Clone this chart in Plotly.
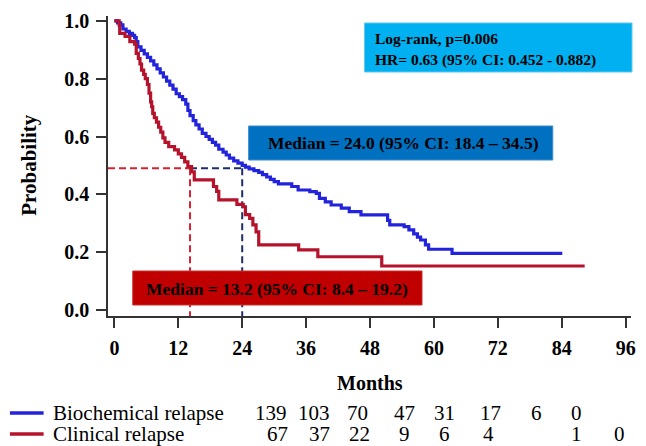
import plotly.graph_objects as go

# ---------------- data ----------------
bio_t = [0, 0.6, 1.2, 1.6, 2.2, 2.8, 3.4, 3.8, 4.1, 4.4, 5.0, 5.6, 6.2, 6.8, 7.4, 8.0, 8.6, 9.2,
         9.8, 10.4, 11.0, 11.6, 12.2, 12.8, 13.4, 13.8, 14.2, 14.8, 15.3, 15.9, 16.5, 17.2, 17.8,
         18.4, 19.0, 19.6, 20.4, 21.0, 21.6, 22.4, 23.2, 24.0, 24.6, 25.3, 26.2, 27.1, 27.8, 28.6,
         29.3, 30.0, 30.8, 33.3, 34.5, 36.7, 37.9, 38.5, 39.6, 40.7, 42.6, 44.1, 46.3, 51.3, 51.7,
         54.4, 55.3, 56.2, 56.9, 57.5, 58.4, 59.0, 63.4, 84.1]
bio_s = [1.0, 0.993, 0.986, 0.972, 0.964, 0.957, 0.950, 0.942, 0.928, 0.910, 0.898, 0.886, 0.874,
         0.862, 0.848, 0.834, 0.820, 0.806, 0.792, 0.778, 0.764, 0.748, 0.738, 0.728, 0.712, 0.690,
         0.672, 0.655, 0.640, 0.626, 0.611, 0.600, 0.590, 0.580, 0.570, 0.556, 0.546, 0.536, 0.525,
         0.516, 0.508, 0.500, 0.494, 0.488, 0.482, 0.476, 0.468, 0.460, 0.452, 0.444, 0.436, 0.427,
         0.415, 0.409, 0.403, 0.386, 0.374, 0.363, 0.352, 0.340, 0.329, 0.310, 0.294, 0.288, 0.277,
         0.263, 0.252, 0.242, 0.225, 0.210, 0.196, 0.196]

clin_t = [0, 0.9, 1.0, 2.0, 2.9, 3.8, 4.1, 4.5, 4.8, 5.1, 5.5, 5.8, 6.2, 6.5, 6.8, 7.0, 7.2, 7.5,
          7.9, 8.3, 8.7, 9.1, 9.5, 10.2, 11.3, 12.0, 12.6, 13.2, 13.8, 14.5, 15.0, 18.6, 19.2, 19.6,
          23.0, 24.2, 24.6, 25.4, 26.0, 26.6, 27.1, 34.6, 38.2, 50.2, 88.3]
clin_s = [1.0, 0.985, 0.957, 0.946, 0.928, 0.920, 0.888, 0.870, 0.851, 0.830, 0.815, 0.800, 0.780,
          0.750, 0.720, 0.703, 0.680, 0.665, 0.650, 0.632, 0.615, 0.595, 0.580, 0.565, 0.554, 0.540,
          0.528, 0.512, 0.496, 0.478, 0.450, 0.427, 0.410, 0.381, 0.365, 0.357, 0.330, 0.317, 0.294,
          0.270, 0.225, 0.208, 0.184, 0.152, 0.152]

median_level = 0.49
median_clin_drawn = 14.2
median_bio_drawn = 24.0
median_bio_curve = 24.6

x_ticks = [0, 12, 24, 36, 48, 60, 72, 84, 96]
y_ticks = [0.0, 0.2, 0.4, 0.6, 0.8, 1.0]

group_names = ["Biochemical relapse", "Clinical relapse"]
risk_bio = ["139", "103", "70", "47", "31", "17", "6", "0"]
risk_clin = ["67", "37", "22", "9", "6", "4", "", "1", "0"]

stats_line1 = "Log-rank, p=0.006"
stats_line2 = "HR= 0.63 (95% CI: 0.452 - 0.882)"
median_bio_text = "Median = 24.0 (95% CI: 18.4 \u2013 34.5)"
median_clin_text = "Median = 13.2 (95% CI: 8.4 \u2013 19.2)"

# ---------------- layout helpers ----------------
W, H = 646, 446
L, R, T, B = 108, 10, 16, 130
PW, PH = W - L - R, H - T - B


def px(x):
    return (x - L) / PW


def py(y):
    return (H - B - y) / PH


SERIF = "Liberation Serif, Times New Roman, serif"
BLUE = "#2323dc"
RED = "#b5122b"
DRED = "#d42330"
NAVY = "#1d2c6b"

fig = go.Figure()

# median reference lines (dashed)
dash = "7px,4px"
fig.add_trace(go.Scatter(x=[-1.2, median_clin_drawn], y=[median_level, median_level], mode="lines",
                         line=dict(color=DRED, width=2, dash=dash), showlegend=False, hoverinfo="skip"))
fig.add_trace(go.Scatter(x=[median_clin_drawn, median_clin_drawn], y=[median_level, -0.021], mode="lines",
                         line=dict(color=DRED, width=2, dash=dash), showlegend=False, hoverinfo="skip"))
fig.add_trace(go.Scatter(x=[median_clin_drawn, median_bio_curve], y=[median_level, median_level], mode="lines",
                         line=dict(color=NAVY, width=2, dash=dash), showlegend=False, hoverinfo="skip"))
fig.add_trace(go.Scatter(x=[median_bio_drawn, median_bio_drawn], y=[median_level, -0.021], mode="lines",
                         line=dict(color=NAVY, width=2, dash=dash), showlegend=False, hoverinfo="skip"))

# KM curves
fig.add_trace(go.Scatter(x=bio_t, y=bio_s, mode="lines", line=dict(color=BLUE, width=3.2, shape="hv"),
                         name=group_names[0], showlegend=False))
fig.add_trace(go.Scatter(x=clin_t, y=clin_s, mode="lines", line=dict(color=RED, width=3.2, shape="hv"),
                         name=group_names[1], showlegend=False))

shapes = []
annotations = []

# stats box
shapes.append(dict(type="rect", xref="paper", yref="paper", x0=px(367), x1=px(637), y0=py(72), y1=py(23),
                   fillcolor="#00b0f0", line=dict(color="#5bc8f0", width=1), layer="above"))
annotations.append(dict(xref="paper", yref="paper", x=px(376), y=py(38), xanchor="left", yanchor="middle",
                        text="<b>" + stats_line1 + "</b>", showarrow=False,
                        font=dict(family=SERIF, size=15.5, color="black")))
annotations.append(dict(xref="paper", yref="paper", x=px(376), y=py(60), xanchor="left", yanchor="middle",
                        text="<b>" + stats_line2 + "</b>", showarrow=False,
                        font=dict(family=SERIF, size=15.5, color="black")))

# median boxes
shapes.append(dict(type="rect", xref="paper", yref="paper", x0=px(250), x1=px(557), y0=py(160), y1=py(126),
                   fillcolor="#0070c0", line=dict(color="#3a8ad0", width=1), layer="above"))
annotations.append(dict(xref="paper", yref="paper", x=px(406), y=py(143), xanchor="center", yanchor="middle",
                        text="<b>" + median_bio_text + "</b>", showarrow=False,
                        font=dict(family=SERIF, size=17.5, color="black")))
shapes.append(dict(type="rect", xref="paper", yref="paper", x0=px(133), x1=px(425), y0=py(305), y1=py(271),
                   fillcolor="#c00000", line=dict(color="#c83030", width=1), layer="above"))
annotations.append(dict(xref="paper", yref="paper", x=px(279), y=py(289), xanchor="center", yanchor="middle",
                        text="<b>" + median_clin_text + "</b>", showarrow=False,
                        font=dict(family=SERIF, size=17.5, color="black")))

# axis titles
annotations.append(dict(xref="paper", yref="paper", x=px(28), y=py(165), textangle=-90,
                        xanchor="center", yanchor="middle", text="<b>Probability</b>", showarrow=False,
                        font=dict(family=SERIF, size=21, color="black")))
annotations.append(dict(xref="paper", yref="paper", x=px(372), y=py(383),
                        xanchor="center", yanchor="middle", text="<b>Months</b>", showarrow=False,
                        font=dict(family=SERIF, size=20, color="black")))

# risk table / legend
row_y = [413, 434]
line_colors = [BLUE, RED]
RISK_SIZE = 21
for i, name in enumerate(group_names):
    shapes.append(dict(type="line", xref="paper", yref="paper", x0=px(9), x1=px(43), y0=py(row_y[i]),
                       y1=py(row_y[i]), line=dict(color=line_colors[i], width=3.5)))
    annotations.append(dict(xref="paper", yref="paper", x=px(50), y=py(row_y[i]), xanchor="left",
                            yanchor="middle", text=name, showarrow=False,
                            font=dict(family=SERIF, size=RISK_SIZE, color="black")))

cols_bio = [273, 316, 360, 407, 448, 494, 541, 581]
cols_clin = [279, 322, 362, 407, 448, 492, 541, 581, 624]
for val, cx in zip(risk_bio, cols_bio):
    annotations.append(dict(xref="paper", yref="paper", x=px(cx), y=py(row_y[0]), xanchor="center",
                            yanchor="middle", text=val, showarrow=False,
                            font=dict(family=SERIF, size=RISK_SIZE, color="black")))
for val, cx in zip(risk_clin, cols_clin):
    if val:
        annotations.append(dict(xref="paper", yref="paper", x=px(cx), y=py(row_y[1]), xanchor="center",
                                yanchor="middle", text=val, showarrow=False,
                                font=dict(family=SERIF, size=RISK_SIZE, color="black")))

axis_common = dict(showline=True, linecolor="#333333", linewidth=1.5, ticks="outside", ticklen=10,
                   tickwidth=1.5, tickcolor="#333333", showgrid=False, zeroline=False,
                   ticklabelstandoff=3,
                   tickfont=dict(family=SERIF, size=20, color="black", weight="bold"))

fig.update_layout(
    width=W, height=H,
    margin=dict(l=L, r=R, t=T, b=B, pad=0),
    paper_bgcolor="white", plot_bgcolor="white",
    xaxis=dict(range=[-1.2, 97.0], tickvals=x_ticks, ticktext=[str(v) for v in x_ticks], **axis_common),
    yaxis=dict(range=[-0.021, 1.017], tickvals=y_ticks, ticktext=[f"{v:.1f}" for v in y_ticks], **axis_common),
    shapes=shapes, annotations=annotations, showlegend=False,
)

fig.write_html("out.html", config={"displayModeBar": False},
               post_script="document.body.style.margin='0px';document.body.style.overflow='hidden';")
